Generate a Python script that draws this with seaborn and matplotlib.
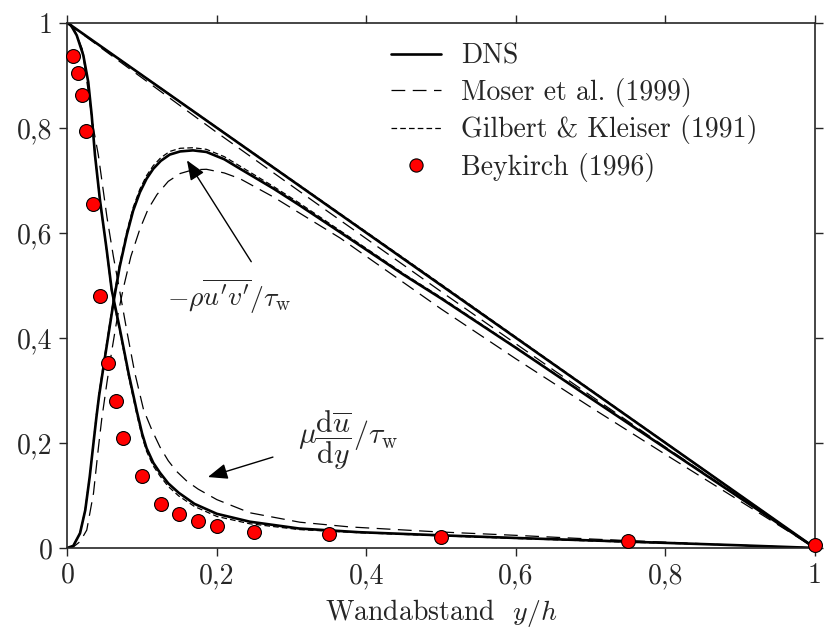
import matplotlib
matplotlib.use("Agg")
import matplotlib.pyplot as plt
import seaborn as sns
import pandas as pd
from matplotlib.lines import Line2D

# ---------------- data ----------------
x_ticks = [0, 0.2, 0.4, 0.6, 0.8, 1.0]
x_tick_labels = ["0", "0,2", "0,4", "0,6", "0,8", "1"]
y_ticks = [0, 0.2, 0.4, 0.6, 0.8, 1.0]
y_tick_labels = ["0", "0,2", "0,4", "0,6", "0,8", "1"]

legend_labels = ["DNS", "Moser et al. (1999)", "Gilbert & Kleiser (1991)", "Beykirch (1996)"]

# total shear stress
tot_dns_x = [0.0, 1.0]
tot_dns_y = [1.0, 0.0]
tot_gil_x = [0.0, 0.5, 1.0]
tot_gil_y = [1.0, 0.502, 0.0]
tot_mos_x = [0.0, 0.05, 0.2, 0.35, 0.5, 0.65, 0.8, 0.9, 1.0]
tot_mos_y = [1.0, 0.947, 0.791, 0.639, 0.488, 0.339, 0.192, 0.096, 0.0]

# viscous stress  mu du/dy / tau_w
visc_dns_x = [0.0, 0.005, 0.0126, 0.0214, 0.028, 0.0326, 0.037, 0.0437, 0.0527, 0.0594,
              0.0705, 0.082, 0.093, 0.100, 0.106, 0.115, 0.124, 0.135, 0.149, 0.17,
              0.2, 0.244, 0.31, 0.39, 0.5, 0.6, 0.75, 0.9, 1.0]
visc_dns_y = [1.0, 0.995, 0.976, 0.938, 0.887, 0.824, 0.748, 0.662, 0.567, 0.491,
              0.415, 0.332, 0.260, 0.218, 0.190, 0.162, 0.143, 0.123, 0.105, 0.084,
              0.065, 0.050, 0.037, 0.030, 0.024, 0.019, 0.012, 0.005, 0.0]
visc_gil_x = [0.0, 0.005, 0.0126, 0.0214, 0.028, 0.0326, 0.037, 0.0437, 0.0527, 0.0594,
              0.0705, 0.082, 0.093, 0.100, 0.106, 0.115, 0.124, 0.135, 0.149, 0.17,
              0.2, 0.244, 0.31, 0.39, 0.5, 0.6, 0.75, 0.9, 1.0]
visc_gil_y = [1.0, 0.995, 0.976, 0.938, 0.887, 0.824, 0.748, 0.660, 0.564, 0.487,
              0.410, 0.326, 0.254, 0.212, 0.184, 0.156, 0.137, 0.117, 0.099, 0.079,
              0.060, 0.046, 0.035, 0.029, 0.023, 0.018, 0.011, 0.005, 0.0]
visc_mos_x = [0.0, 0.01, 0.02, 0.0348, 0.0415, 0.053, 0.0616, 0.0687, 0.08, 0.09,
              0.102, 0.113, 0.124, 0.135, 0.146, 0.16, 0.175, 0.2, 0.244, 0.311,
              0.378, 0.49, 0.6, 0.7, 0.8, 0.9, 1.0]
visc_mos_y = [1.0, 0.985, 0.95, 0.80, 0.748, 0.63, 0.555, 0.50, 0.41, 0.335,
              0.263, 0.225, 0.192, 0.166, 0.146, 0.127, 0.112, 0.092, 0.067, 0.049,
              0.040, 0.031, 0.024, 0.017, 0.011, 0.005, 0.0]

# Reynolds shear stress  -rho u'v' / tau_w
rey_dns_x = [0.0, 0.008, 0.017, 0.024, 0.030, 0.035, 0.039, 0.0425, 0.050, 0.056,
             0.062, 0.070, 0.0795, 0.088, 0.097, 0.106, 0.115, 0.125, 0.137, 0.151,
             0.168, 0.186, 0.21, 0.231, 0.276, 0.31, 0.365, 0.45, 0.5, 0.6,
             0.7, 0.8, 0.9, 1.0]
rey_dns_y = [0.0, 0.004, 0.028, 0.072, 0.136, 0.20, 0.25, 0.29, 0.36, 0.415,
             0.47, 0.535, 0.596, 0.642, 0.677, 0.703, 0.722, 0.737, 0.749, 0.755,
             0.757, 0.754, 0.740, 0.722, 0.684, 0.653, 0.601, 0.52, 0.475, 0.381,
             0.285, 0.19, 0.095, 0.0]
rey_gil_x = [0.0, 0.008, 0.017, 0.024, 0.030, 0.035, 0.039, 0.0425, 0.050, 0.056,
             0.062, 0.070, 0.0795, 0.088, 0.097, 0.106, 0.115, 0.125, 0.137, 0.151,
             0.168, 0.186, 0.21, 0.231, 0.276, 0.31, 0.365, 0.45, 0.5, 0.6,
             0.7, 0.8, 0.9, 1.0]
rey_gil_y = [0.0, 0.004, 0.029, 0.074, 0.139, 0.204, 0.255, 0.295, 0.366, 0.421,
             0.476, 0.541, 0.602, 0.648, 0.683, 0.709, 0.728, 0.743, 0.755, 0.761,
             0.762, 0.759, 0.745, 0.727, 0.688, 0.657, 0.604, 0.522, 0.477, 0.382,
             0.286, 0.19, 0.095, 0.0]
rey_mos_x = [0.0, 0.008, 0.017, 0.026, 0.035, 0.0415, 0.046, 0.053, 0.06, 0.067,
             0.075, 0.085, 0.097, 0.108, 0.12, 0.135, 0.151, 0.168, 0.186, 0.21,
             0.231, 0.276, 0.365, 0.5, 0.6, 0.7, 0.8, 0.9, 1.0]
rey_mos_y = [0.0, 0.002, 0.012, 0.034, 0.104, 0.19, 0.245, 0.315, 0.38, 0.44,
             0.495, 0.555, 0.607, 0.645, 0.673, 0.698, 0.713, 0.720, 0.721, 0.714,
             0.703, 0.668, 0.59, 0.455, 0.36, 0.268, 0.178, 0.089, 0.0]

# Beykirch (1996) measurements
bey_x = [0.008, 0.0146, 0.020, 0.0253, 0.0346, 0.044, 0.0546, 0.0652, 0.0746, 0.100,
         0.125, 0.150, 0.175, 0.200, 0.25, 0.35, 0.5, 0.75, 1.0]
bey_y = [0.937, 0.905, 0.862, 0.793, 0.655, 0.480, 0.353, 0.279, 0.209, 0.137,
         0.083, 0.065, 0.051, 0.042, 0.030, 0.026, 0.020, 0.013, 0.006]

# ---------------- styling ----------------
sns.set_theme(style="ticks")
plt.rcParams["font.family"] = ["cmr10", "DejaVu Serif"]
plt.rcParams["mathtext.fontset"] = "cm"
plt.rcParams["axes.unicode_minus"] = False
plt.rcParams["axes.formatter.use_mathtext"] = True

FS = 20
fig = plt.figure(figsize=(8.27, 6.32), dpi=100)
ax = fig.add_axes([0.0814, 0.133, 0.9041, 0.831])

solid = dict(color="black", lw=1.9, linestyle="-")
dashed = dict(color="black", lw=0.9, linestyle=(0, (11, 6)))
dotted = dict(color="black", lw=0.9, linestyle=(0, (4.5, 2.5)))

def draw(xs, ys, style):
    df = pd.DataFrame({"x": xs, "y": ys})
    sns.lineplot(data=df, x="x", y="y", ax=ax, sort=False, estimator=None,
                 legend=False, **style)

for xs, ys in [(tot_mos_x, tot_mos_y), (visc_mos_x, visc_mos_y), (rey_mos_x, rey_mos_y)]:
    draw(xs, ys, dashed)
for xs, ys in [(tot_gil_x, tot_gil_y), (visc_gil_x, visc_gil_y), (rey_gil_x, rey_gil_y)]:
    draw(xs, ys, dotted)
for xs, ys in [(tot_dns_x, tot_dns_y), (visc_dns_x, visc_dns_y), (rey_dns_x, rey_dns_y)]:
    draw(xs, ys, solid)

bey = pd.DataFrame({"x": bey_x, "y": bey_y})
sns.scatterplot(data=bey, x="x", y="y", ax=ax, color="#ff0000", edgecolor="black",
                linewidth=0.8, s=100, zorder=5, legend=False, clip_on=False)

ax.set_xlim(0, 1)
ax.set_ylim(0, 1)
ax.set_xticks(x_ticks)
ax.set_xticklabels(x_tick_labels, fontsize=FS)
ax.set_yticks(y_ticks)
ax.set_yticklabels(y_tick_labels, fontsize=FS)
ax.tick_params(direction="out", length=5.5, width=1.0, top=True, right=True,
               labeltop=False, labelright=False, pad=5)
for sp in ax.spines.values():
    sp.set_linewidth(1.2)
    sp.set_visible(True)
ax.set_xlabel(r"Wandabstand  $y/h$", fontsize=FS, labelpad=6)
ax.set_ylabel("")

# annotations
ax.annotate("", xy=(0.160, 0.738), xytext=(0.246, 0.545),
            arrowprops=dict(arrowstyle="-|>,head_length=1.0,head_width=0.4",
                            color="black", lw=1.0, shrinkA=0, shrinkB=0))
ax.text(0.216, 0.478, r"$-\rho\overline{u'v'}/\tau_{\mathrm{w}}$", fontsize=20,
        ha="center", va="center")
ax.annotate("", xy=(0.188, 0.135), xytext=(0.275, 0.173),
            arrowprops=dict(arrowstyle="-|>,head_length=1.0,head_width=0.4",
                            color="black", lw=1.0, shrinkA=0, shrinkB=0))
ax.text(0.309, 0.205, r"$\mu\dfrac{\mathrm{d}\overline{u}}{\mathrm{d}y}/\tau_{\mathrm{w}}$",
        fontsize=21.5, ha="left", va="center")

handles = [Line2D([], [], **solid),
           Line2D([], [], **dashed),
           Line2D([], [], **dotted),
           Line2D([], [], linestyle="none", marker="o", markerfacecolor="#ff0000",
                  markeredgecolor="black", markeredgewidth=0.8, markersize=9.5)]
ax.legend(handles, legend_labels, loc="upper left", bbox_to_anchor=(0.433, 0.961),
          frameon=False, fontsize=FS, handlelength=1.8, handletextpad=0.72,
          labelspacing=0.3, borderaxespad=0.0, borderpad=0.0)

fig.savefig("out.png", dpi=100)
